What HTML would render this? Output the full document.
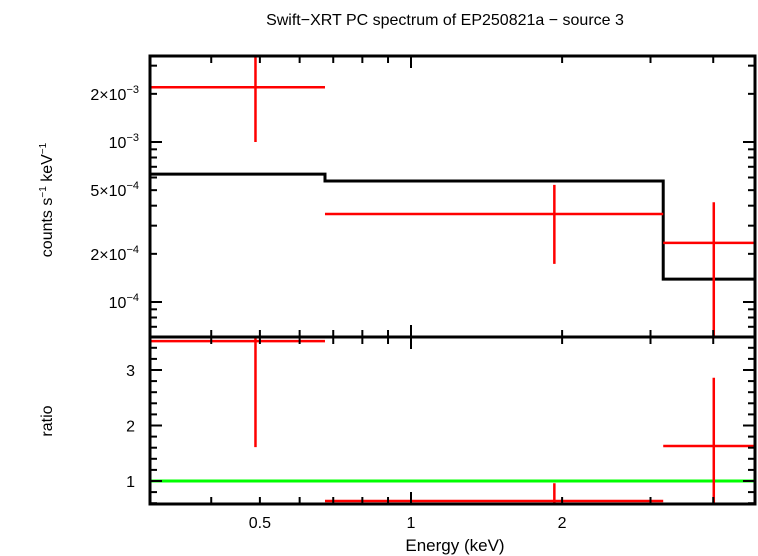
<!DOCTYPE html>
<html><head><meta charset="utf-8"><style>
body{margin:0;background:#fff;}
svg{display:block;font-family:"Liberation Sans",sans-serif;}
</style></head><body>
<svg id="c" width="758" height="556">
<text x="445" y="25" font-size="16" text-anchor="middle">Swift−XRT PC spectrum of EP250821a − source 3</text>
<text x="455" y="551" font-size="17" text-anchor="middle">Energy (keV)</text>
<text transform="translate(52,200) rotate(-90)" font-size="16" text-anchor="middle">counts s<tspan font-size="10" dy="-6">−1</tspan><tspan dy="6"> keV</tspan><tspan font-size="10" dy="-6">−1</tspan></text>
<text transform="translate(52,421) rotate(-90)" font-size="16" text-anchor="middle">ratio</text>
</svg>
<script>
const binLo=[0.30,0.674,3.18];
const binHi=[0.674,3.18,5.2];
const binCenter=[0.49,1.93,4.01];
const rate=[2.2e-3,3.55e-4,2.34e-4];
const rateLo=[1.0e-3,1.73e-4,3e-5];
const rateHi=[5e-3,5.4e-4,4.2e-4];
const model=[6.3e-4,5.7e-4,1.39e-4];
const ratio=[3.52,0.64,1.63];
const ratioLo=[1.61,0.3,0.3];
const ratioHi=[4.5,0.96,2.86];
const xTickLabels=["0.5","1","2"];
const xTickVals=[0.5,1,2];
const topTickVals=[2e-3,1e-3,5e-4,2e-4,1e-4];
const topTickLabels=["2×10","10","5×10","2×10","10"];
const topTickExp=["−3","−3","−4","−4","−4"];
const ratioTickVals=[1,2,3];

const L=150,R=755,T=56,M=337,B=504;
const X=e=>411+502*Math.log10(e);
const YT=v=>142-160*(Math.log10(v)+3);
const YR=v=>481-55.5*(v-1);
const svg=document.getElementById('c');
const NS='http://www.w3.org/2000/svg';
function mk(t,a){const e=document.createElementNS(NS,t);for(const k in a)e.setAttribute(k,a[k]);svg.appendChild(e);return e;}
const clampT=y=>Math.max(T,Math.min(M,y)), clampR=y=>Math.max(M,Math.min(B,y)), clampX=x=>Math.max(L,Math.min(R,x));

// green unity line
let g=mk('line',{x1:L,x2:R,y1:YR(1),y2:YR(1),stroke:'#00ff00','stroke-width':3});



// model step
let d='';
for(let i=0;i<model.length;i++){const y=YT(model[i]);d+=(i?'L':'M')+clampX(X(binLo[i]))+' '+y+' L'+clampX(X(binHi[i]))+' '+y+' ';}
let mp=mk('path',{d:d,fill:'none',stroke:'#000','stroke-width':3});



for(let i=0;i<rate.length;i++){
 const x1=clampX(X(binLo[i])),x2=clampX(X(binHi[i])),xc=X(binCenter[i]);
 let h=mk('line',{x1:x1,x2:x2,y1:YT(rate[i]),y2:YT(rate[i]),stroke:'#f00','stroke-width':2.5});
 
 
 let v=mk('line',{x1:xc,x2:xc,y1:clampT(YT(rateHi[i])),y2:clampT(YT(rateLo[i])),stroke:'#f00','stroke-width':2.5});
 
 
 let h2=mk('line',{x1:x1,x2:x2,y1:YR(ratio[i]),y2:YR(ratio[i]),stroke:'#f00','stroke-width':2.5});
 
 
 let v2=mk('line',{x1:xc,x2:xc,y1:clampR(YR(ratioHi[i])),y2:clampR(YR(ratioLo[i])),stroke:'#f00','stroke-width':2.5});
 
 
}

// frames
let f1=mk('rect',{x:L,y:T,width:R-L,height:M-T,fill:'none',stroke:'#000','stroke-width':3});


let f2=mk('rect',{x:L,y:M,width:R-L,height:B-M,fill:'none',stroke:'#000','stroke-width':3});



// x ticks
const xt=[0.4,0.5,0.6,0.7,0.8,0.9,1,2,3,4];
for(const e of xt){const x=X(e),len=(e===1)?12:7;
 for(const [y,s] of [[T,1],[M,1],[M,-1],[B,-1]]){let t=mk('line',{x1:x,x2:x,y1:y,y2:y+s*len,stroke:'#000','stroke-width':2});
 
 }}
xTickVals.forEach((v,i)=>{let t=mk('text',{x:X(v),y:528,'font-size':16,'text-anchor':'middle'});t.textContent=xTickLabels[i];
 
 });

// top y ticks
const ym=[6e-5,7e-5,8e-5,9e-5,1e-4,2e-4,3e-4,4e-4,5e-4,6e-4,7e-4,8e-4,9e-4,1e-3,2e-3,3e-3];
for(const v of ym){const y=YT(v);if(y<T||y>M)continue;const len=(v===1e-4||v===1e-3)?12:7;
 for(const [x,s] of [[L,1],[R,-1]]){let t=mk('line',{x1:x,x2:x+s*len,y1:y,y2:y,stroke:'#000','stroke-width':2});
 
 }}
topTickVals.forEach((v,i)=>{let t=mk('text',{x:139,y:YT(v)+6,'font-size':16,'text-anchor':'end'});
 t.innerHTML=topTickLabels[i]+'<tspan font-size="11" dy="-7">'+topTickExp[i]+'</tspan>';
 
 });

// ratio ticks
for(let v=0.6;v<3.6;v+=0.2){const y=YR(v);const maj=Math.abs(v-Math.round(v))<1e-6;const len=maj?12:7;
 for(const [x,s] of [[L,1],[R,-1]]){let t=mk('line',{x1:x,x2:x+s*len,y1:y,y2:y,stroke:'#000','stroke-width':2});
 
 }}
ratioTickVals.forEach(v=>{let t=mk('text',{x:135,y:YR(v)+6,'font-size':16,'text-anchor':'end'});t.textContent=v;
 
 });
</script>
</body></html>
